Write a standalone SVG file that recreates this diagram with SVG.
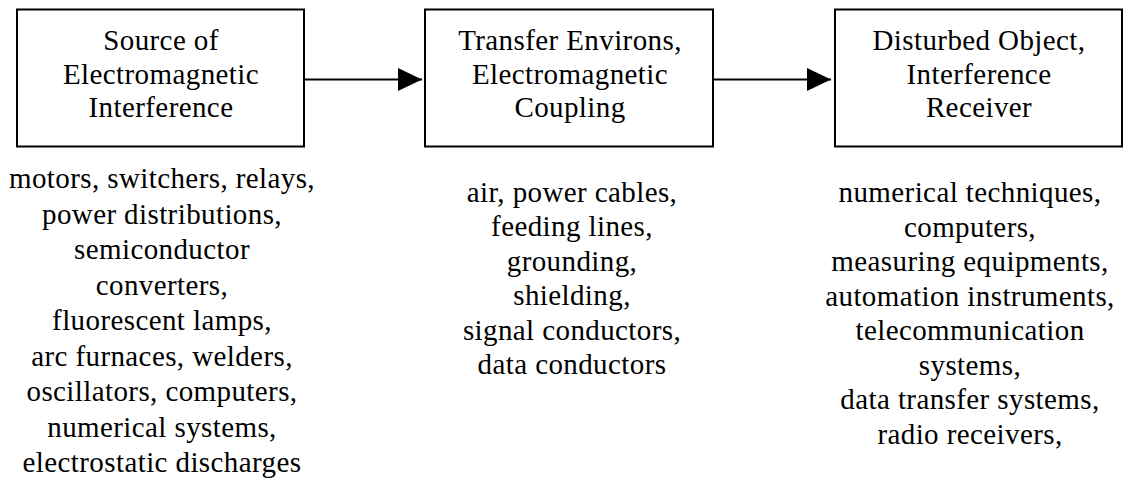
<svg xmlns="http://www.w3.org/2000/svg" width="1140" height="486" viewBox="0 0 1140 486">
  <style>
    .box { fill: #ffffff; stroke: #000000; stroke-width: 2; }
    .t { font-family: "Liberation Serif", "Times New Roman", serif; font-size: 29px; letter-spacing: 0.4px; fill: #000000; text-anchor: middle; }
    .conn { stroke: #000000; stroke-width: 2; fill: none; }
  </style>
  <defs>
    <marker id="arrow" markerWidth="24" markerHeight="24" viewBox="0 0 24 24" refX="24" refY="12" orient="auto" markerUnits="userSpaceOnUse">
      <path d="M0,0.5 L24,12 L0,23.5 Z" fill="#000000"/>
    </marker>
  </defs>
  <rect x="0" y="0" width="1140" height="486" fill="#ffffff"/>

  <g id="connectors">
    <line class="conn" x1="305" y1="79.5" x2="422" y2="79.5" marker-end="url(#arrow)"/>
    <line class="conn" x1="714" y1="79.5" x2="831" y2="79.5" marker-end="url(#arrow)"/>
  </g>

  <g id="node-source">
    <rect class="box" x="17" y="9.5" width="287" height="137"/>
    <text class="t" x="161" y="50">Source of</text>
    <text class="t" x="161" y="84">Electromagnetic</text>
    <text class="t" x="161" y="117">Interference</text>
  </g>

  <g id="node-transfer">
    <rect class="box" x="425" y="9.5" width="288" height="137"/>
    <text class="t" x="570" y="50">Transfer Environs,</text>
    <text class="t" x="570" y="84">Electromagnetic</text>
    <text class="t" x="570" y="117">Coupling</text>
  </g>

  <g id="node-receiver">
    <rect class="box" x="835" y="9.5" width="287" height="137"/>
    <text class="t" x="979" y="50">Disturbed Object,</text>
    <text class="t" x="979" y="84">Interference</text>
    <text class="t" x="979" y="117">Receiver</text>
  </g>

  <g id="list-source">
    <text class="t" x="162" y="188">motors, switchers, relays,</text>
    <text class="t" x="162" y="223.5">power distributions,</text>
    <text class="t" x="162" y="259">semiconductor</text>
    <text class="t" x="162" y="294.5">converters,</text>
    <text class="t" x="162" y="330">fluorescent lamps,</text>
    <text class="t" x="162" y="365.5">arc furnaces, welders,</text>
    <text class="t" x="162" y="401">oscillators, computers,</text>
    <text class="t" x="162" y="436.5">numerical systems,</text>
    <text class="t" x="162" y="472">electrostatic discharges</text>
  </g>

  <g id="list-transfer">
    <text class="t" x="572" y="202">air, power cables,</text>
    <text class="t" x="572" y="236.4">feeding lines,</text>
    <text class="t" x="572" y="270.8">grounding,</text>
    <text class="t" x="572" y="305.2">shielding,</text>
    <text class="t" x="572" y="339.6">signal conductors,</text>
    <text class="t" x="572" y="374">data conductors</text>
  </g>

  <g id="list-receiver">
    <text class="t" x="970" y="202">numerical techniques,</text>
    <text class="t" x="970" y="236.5">computers,</text>
    <text class="t" x="970" y="271">measuring equipments,</text>
    <text class="t" x="970" y="305.5">automation instruments,</text>
    <text class="t" x="970" y="340">telecommunication</text>
    <text class="t" x="970" y="374.5">systems,</text>
    <text class="t" x="970" y="409">data transfer systems,</text>
    <text class="t" x="970" y="443.5">radio receivers,</text>
  </g>
</svg>
